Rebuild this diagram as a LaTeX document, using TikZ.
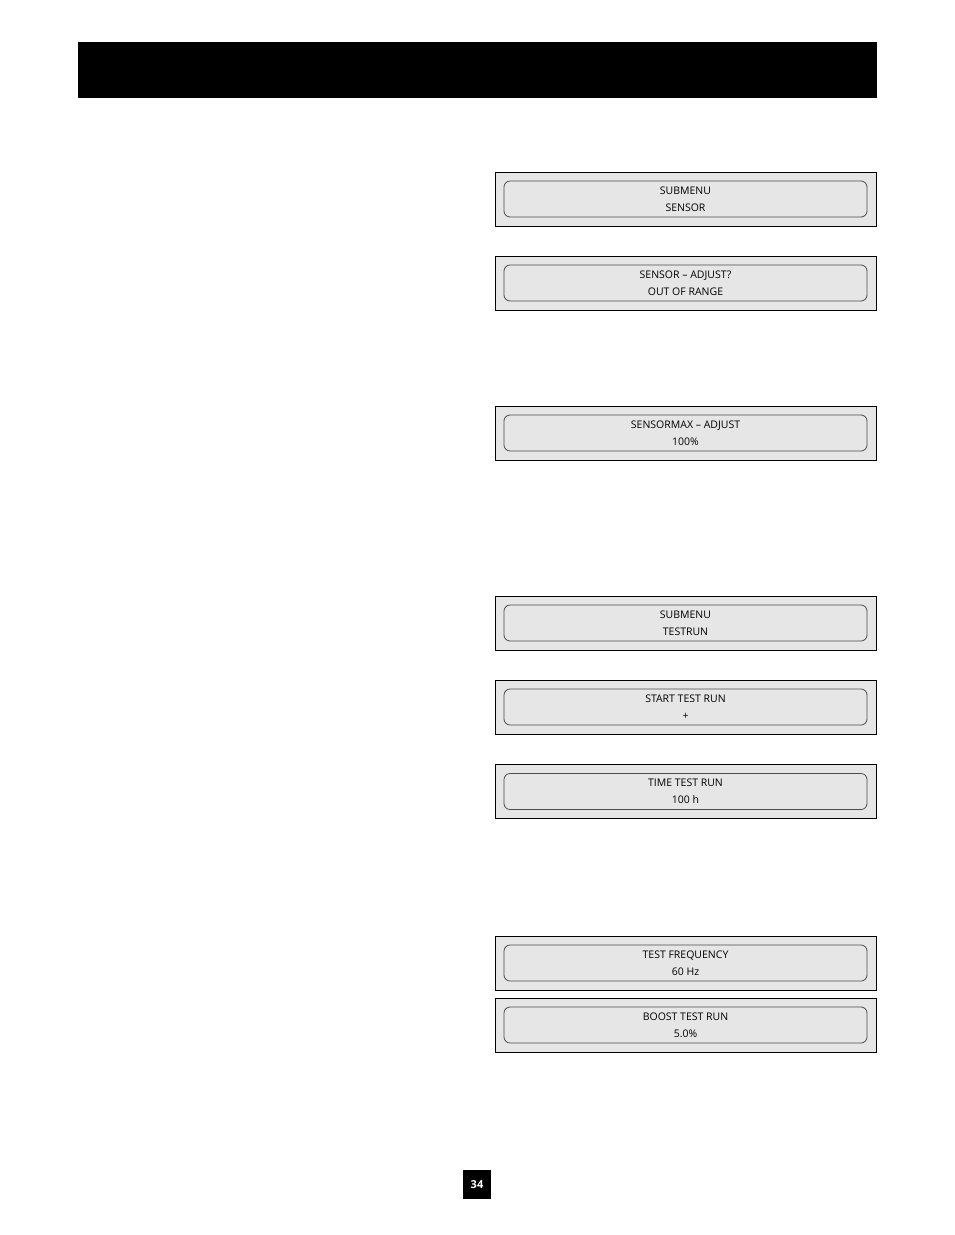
\documentclass[tikz,border=0pt]{standalone}
\usepackage{fontspec}
\setmainfont{Open Sans}
\definecolor{lcdgray}{HTML}{E6E6E6}
\tikzset{
  lcdframe/.style={draw=black,fill=lcdgray,line width=1pt,minimum width=381pt,minimum height=54pt,inner sep=0pt},
  lcdinner/.style={draw=black!70,rounded corners=6pt,line width=0.8pt,minimum width=363pt,minimum height=36pt,inner sep=0pt,
    align=center,font=\fontsize{10.5}{17}\selectfont}
}
\newcommand{\lcdbox}[4]{%
  \node[lcdframe] (#1) at (685.5,#2) {};
  \node[lcdinner] (#1in) at (#1) {#3\\#4};
}
\begin{document}
\begin{tikzpicture}[x=1pt,y=-1pt]
\useasboundingbox (0,0) rectangle (954,1235);
\fill[black] (78,42) rectangle (877,98);
\lcdbox{submsensor}{199}{SUBMENU}{SENSOR}
\lcdbox{sensoradj}{283}{SENSOR -- ADJUST?}{OUT OF RANGE}
\lcdbox{sensormax}{433}{SENSORMAX -- ADJUST}{100\%}
\lcdbox{submtest}{623}{SUBMENU}{TESTRUN}
\lcdbox{starttest}{707}{START TEST RUN}{+}
\lcdbox{timetest}{791.5}{TIME TEST RUN}{100 h}
\lcdbox{testfreq}{963}{TEST FREQUENCY}{60 Hz}
\lcdbox{boosttest}{1025}{BOOST TEST RUN}{5.0\%}
\node[fill=black,text=white,font=\bfseries\fontsize{11}{13}\selectfont,minimum width=28pt,minimum height=29pt,inner sep=0pt] (pagenum) at (477,1184.5) {34};
\end{tikzpicture}
\end{document}
